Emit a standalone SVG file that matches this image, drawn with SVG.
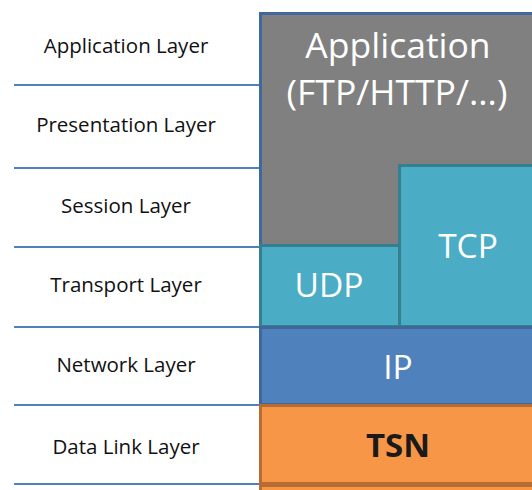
<svg xmlns="http://www.w3.org/2000/svg" width="532" height="490" viewBox="0 0 532 490">
  <style>
    .sep { stroke: #4f81bd; stroke-width: 2; }
    .lbl { font-family: "Open Sans", "Noto Sans", sans-serif; font-size: 20.5px; fill: #111111; text-anchor: middle; }
    .big { font-family: "Open Sans", "Noto Sans", sans-serif; fill: #ffffff; text-anchor: middle; }
    .app { fill: #808080; stroke: #41689a; stroke-width: 3; }
    .tp { fill: #4bacc6; stroke: #357f8f; stroke-width: 3; }
    .ip { fill: #4f81bd; stroke: #3f6797; stroke-width: 3; }
    .tsn { fill: #f79646; stroke: #b66d31; stroke-width: 3; }
  </style>

  <rect width="532" height="490" fill="#ffffff"/>

  <!-- separators between OSI layers -->
  <g id="separators">
    <line class="sep" x1="14" y1="85" x2="260" y2="85"/>
    <line class="sep" x1="14" y1="168" x2="260" y2="168"/>
    <line class="sep" x1="14" y1="247" x2="260" y2="247"/>
    <line class="sep" x1="14" y1="327" x2="260" y2="327"/>
    <line class="sep" x1="14" y1="405" x2="260" y2="405"/>
    <line class="sep" x1="14" y1="484" x2="260" y2="484"/>
  </g>

  <!-- OSI layer names -->
  <g id="osi-labels">
    <text class="lbl" x="126" y="53">Application Layer</text>
    <text class="lbl" x="126" y="132">Presentation Layer</text>
    <text class="lbl" x="126" y="213">Session Layer</text>
    <text class="lbl" x="126" y="292">Transport Layer</text>
    <text class="lbl" x="126" y="372">Network Layer</text>
    <text class="lbl" x="126" y="454">Data Link Layer</text>
  </g>

  <!-- protocol stack -->
  <g id="application">
    <rect class="app" x="260.5" y="13.5" width="280" height="314"/>
    <text class="big" x="398" y="58" font-size="35.5">Application</text>
    <text class="big" x="397" y="105" font-size="35.5">(FTP/HTTP/...)</text>
  </g>
  <g id="udp">
    <rect class="tp" x="260.5" y="245.5" width="139" height="81"/>
    <text class="big" x="329" y="297" font-size="33.5">UDP</text>
  </g>
  <g id="tcp">
    <rect class="tp" x="399.5" y="165.5" width="140" height="161"/>
    <text class="big" x="468" y="258" font-size="33.5">TCP</text>
  </g>
  <g id="ip">
    <rect class="ip" x="260.5" y="327.5" width="280" height="77"/>
    <text class="big" x="398" y="379" font-size="33.5">IP</text>
  </g>
  <g id="tsn">
    <rect class="tsn" x="260.5" y="405.5" width="280" height="78"/>
    <text class="big" x="398" y="457" font-size="33" font-weight="bold" style="fill:#1a1a1a">TSN</text>
  </g>
  <g id="tsn-below">
    <rect class="tsn" x="260.5" y="485.5" width="280" height="10"/>
  </g>
</svg>
